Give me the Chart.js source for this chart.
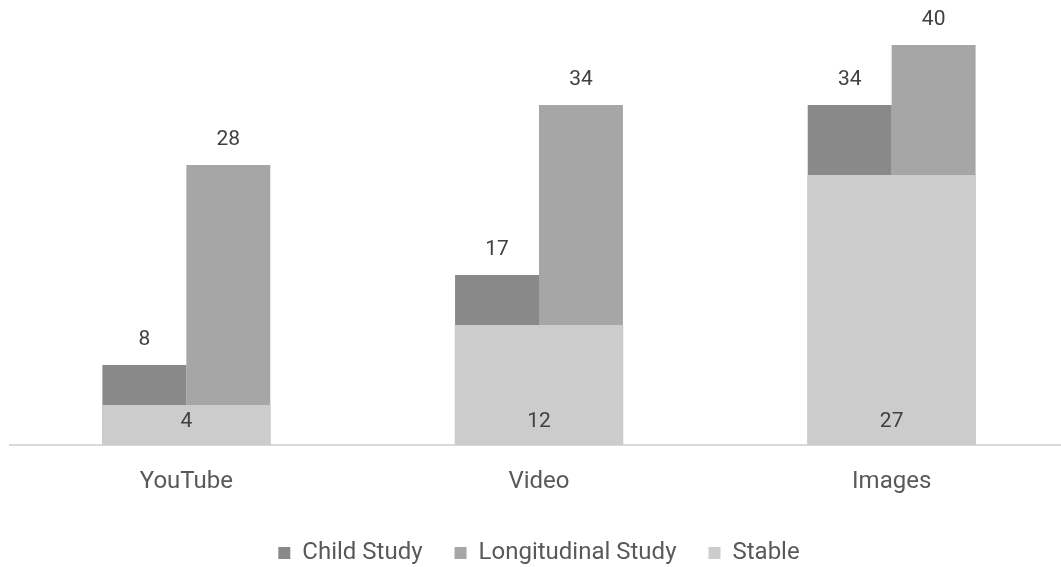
<!DOCTYPE html>
<html>
<head>
<meta charset="utf-8">
<script src="https://cdn.jsdelivr.net/npm/chart.js@4/dist/chart.umd.min.js"></script>
<style>
  html, body { margin: 0; padding: 0; background: #ffffff; overflow: hidden; }
  #wrap { position: relative; width: 1078px; height: 575px; }
</style>
</head>
<body>
<div id="wrap"><canvas id="chart" width="1078" height="575"></canvas></div>
<script>
// Categories and series values
const categories = ['YouTube', 'Video', 'Images'];
const childStudy = [8, 17, 34];
const longitudinalStudy = [28, 34, 40];
const stable = [4, 12, 27];

const FONT = 'Roboto, "Noto Sans", Arial, sans-serif';
const TEXT = '#595959';
const LABEL = '#404040';

// Value labels: above the study bars, near the base inside the Stable bar
const valueLabels = {
  id: 'valueLabels',
  afterDatasetsDraw(chart) {
    const ctx = chart.ctx;
    const yScale = chart.scales.y;
    const base = yScale.getPixelForValue(0);
    ctx.save();
    ctx.font = '21px ' + FONT;
    ctx.fillStyle = LABEL;
    ctx.textAlign = 'center';
    ctx.textBaseline = 'middle';
    chart.data.datasets.forEach((ds, i) => {
      const meta = chart.getDatasetMeta(i);
      meta.data.forEach((bar, j) => {
        const v = ds.data[j];
        const y = ds.insideBase ? base - 23 : bar.y - 25;
        ctx.fillText(String(v), bar.x, y);
      });
    });
    ctx.restore();
  }
};

new Chart(document.getElementById('chart'), {
  type: 'bar',
  data: {
    labels: categories,
    datasets: [
      {
        label: 'Child Study',
        data: childStudy,
        backgroundColor: '#898989',
        order: 1,
        barPercentage: 1.0,
        categoryPercentage: 0.476
      },
      {
        label: 'Longitudinal Study',
        data: longitudinalStudy,
        backgroundColor: '#a6a6a6',
        order: 1,
        barPercentage: 1.0,
        categoryPercentage: 0.476
      },
      {
        label: 'Stable',
        data: stable,
        backgroundColor: '#cccccc',
        order: 0,
        grouped: false,
        barPercentage: 0.478,
        categoryPercentage: 1.0,
        insideBase: true
      }
    ]
  },
  options: {
    responsive: false,
    animation: false,
    devicePixelRatio: 1,
    layout: { padding: { left: 10, right: 10, top: 5, bottom: 0 } },
    plugins: {
      legend: {
        position: 'bottom',
        labels: {
          boxWidth: 12,
          boxHeight: 12,
          padding: 32,
          color: TEXT,
          font: { family: FONT, size: 24 },
          sort: (a, b) => a.datasetIndex - b.datasetIndex
        }
      },
      tooltip: { enabled: false }
    },
    scales: {
      x: {
        type: 'category',
        offset: true,
        grid: { display: false, drawTicks: false },
        border: { display: true, color: '#d9d9d9', width: 2 },
        ticks: {
          color: TEXT,
          padding: 23,
          font: { family: FONT, size: 24 }
        },
        afterFit(scale) { scale.height = 64; }
      },
      y: {
        display: false,
        min: 0,
        max: 44
      }
    }
  },
  plugins: [valueLabels]
});
</script>
</body>
</html>
